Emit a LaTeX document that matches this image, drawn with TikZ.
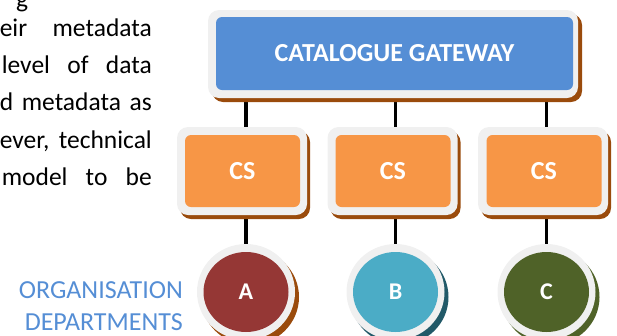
\documentclass[tikz,border=0pt]{standalone}
\usepackage{fontspec}
\setmainfont{Carlito}
\usetikzlibrary{shadows,backgrounds,shapes.geometric}

\definecolor{gwblue}{HTML}{558ED5}
\definecolor{framegray}{HTML}{F0F0F0}
\definecolor{rimbrown}{HTML}{9A4B0C}
\definecolor{csorange}{HTML}{F79646}
\definecolor{deptred}{HTML}{953735}
\definecolor{deptteal}{HTML}{4BACC6}
\definecolor{tealshadow}{HTML}{215968}
\definecolor{deptolive}{HTML}{4F6228}
\definecolor{oliveshadow}{HTML}{4F6228}
\definecolor{labelblue}{HTML}{558ED5}

\begin{document}
\begin{tikzpicture}[x=1pt,y=-1pt,
  bigfont/.style={font=\fontsize{26}{30}\selectfont\bfseries},
  gwrim/.style={fill=framegray, rounded corners=11pt, inner sep=0pt,
    minimum width=370pt, minimum height=88pt,
    drop shadow={shadow xshift=4pt, shadow yshift=-4pt, fill=rimbrown, opacity=1}},
  gwface/.style={fill=gwblue, rounded corners=6pt, inner sep=0pt,
    minimum width=357pt, minimum height=73pt, text=white, bigfont},
  csrim/.style={fill=framegray, rounded corners=11pt, inner sep=0pt,
    minimum width=130pt, minimum height=88pt,
    drop shadow={shadow xshift=3pt, shadow yshift=-4pt, fill=rimbrown, opacity=1}},
  csface/.style={fill=csorange, rounded corners=6pt, inner sep=0pt,
    minimum width=115pt, minimum height=72pt, text=white, bigfont},
  deptrim/.style={ellipse, fill=framegray, inner sep=0pt,
    minimum width=98pt, minimum height=96pt,
    drop shadow={shadow xshift=4pt, shadow yshift=-5pt, fill=#1, opacity=1}},
  deptface/.style={ellipse, fill=#1, inner sep=0pt,
    minimum width=85pt, minimum height=80pt, text=white,
    font=\fontsize{24}{28}\selectfont\bfseries},
  link/.style={draw=black, line width=3.5pt},
  paraline/.style={inner sep=0pt, text=black, font=\fontsize{25.5}{30}\selectfont},
  deptlabel/.style={inner sep=0pt, text=labelblue, font=\fontsize{26}{30}\selectfont, anchor=base east}
]
\useasboundingbox (0,0) rectangle (617,335);
\clip (0,0) rectangle (617,335);

% justified paragraph column on the left
\node[paraline, anchor=base west] (p0) at (16,7) {g};
\node[paraline, anchor=base east] (p1) at (152,36) {\makebox[152pt][s]{eir metadata}};
\node[paraline, anchor=base east] (p2) at (152,73) {\makebox[150pt][s]{level of data}};
\node[paraline, anchor=base east] (p3) at (152,110) {\makebox[152pt][s]{d metadata as}};
\node[paraline, anchor=base east] (p4) at (152,148) {\makebox[152pt][s]{ever, technical}};
\node[paraline, anchor=base east] (p5) at (152,185) {\makebox[150pt][s]{model to be}};

% gateway
\node[gwrim] (gw) at (393,54) {};
\node[gwface] (gwin) at (394.5,53.5) {CATALOGUE GATEWAY};

% catalogue services
\node[csrim] (csa) at (242,171) {};
\node[csface] (csain) at (242.5,171) {CS};
\node[csrim] (csb) at (392.5,171) {};
\node[csface] (csbin) at (393,171) {CS};
\node[csrim] (csc) at (543,171) {};
\node[csface] (cscin) at (544,171) {CS};

% departments
\node[deptrim=rimbrown] (da) at (246,292) {};
\node[deptface=deptred] (dain) at (246,292) {A};
\node[deptrim=tealshadow] (db) at (395.5,292) {};
\node[deptface=deptteal] (dbin) at (395.5,292) {B};
\node[deptrim=oliveshadow] (dc) at (546.5,292) {};
\node[deptface=deptolive] (dcin) at (546.5,292) {C};

\node[deptlabel] (org1) at (183,298) {ORGANISATION};
\node[deptlabel] (org2) at (183,330) {DEPARTMENTS};

% connectors behind the boxes
\begin{pgfonlayer}{background}
  \draw[link] (gw.south -| da.center) -- (csa.north -| da.center);
  \draw[link] (gw.south -| db.center) -- (csb.north -| db.center);
  \draw[link] (gw.south -| dc.center) -- (csc.north -| dc.center);
  \draw[link] (csa.south -| da.center) -- (da.north);
  \draw[link] (csb.south -| db.center) -- (db.north);
  \draw[link] (csc.south -| dc.center) -- (dc.north);
\end{pgfonlayer}
\end{tikzpicture}
\end{document}
